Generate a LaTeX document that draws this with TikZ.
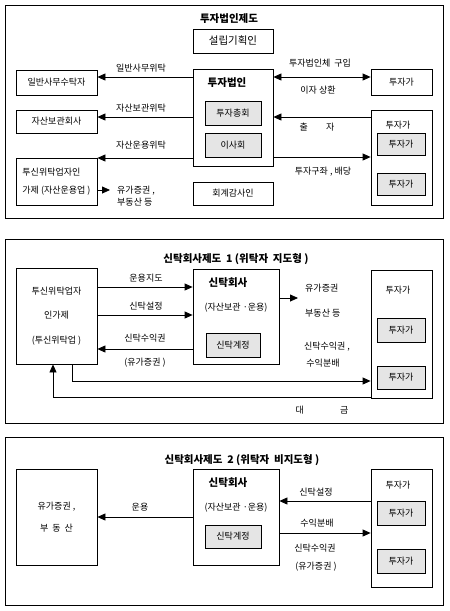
\documentclass[tikz,border=0pt]{standalone}
\usepackage{fontspec}
\setmainfont{Noto Sans CJK KR}
\usetikzlibrary{arrows.meta}

\begin{document}
\begin{tikzpicture}[x=1pt,y=-1pt,
    box/.style={draw,line width=0.8pt,fill=white,inner sep=0pt,font=\fontsize{9}{11}\selectfont},
    greybox/.style={box,fill=gray!20},
    panel/.style={draw,line width=0.8pt},
    arr/.style={-{Triangle[length=8pt,width=7pt]},line width=0.8pt},
    dblarr/.style={{Triangle[length=8pt,width=7pt]}-{Triangle[length=8pt,width=7pt]},line width=0.8pt},
    lbl/.style={inner sep=0pt,font=\fontsize{9}{11}\selectfont},
    ttl/.style={inner sep=0pt,font=\fontsize{10.5}{12}\selectfont\bfseries}]
    \useasboundingbox (0,0) rectangle (450,611);

    % Panel 1: investment company
    \draw[panel] (5,5) rectangle (443,218);
    \node[ttl] (title1) at (229,19) {투자법인제도};
    \node[box,minimum width=80pt,minimum height=24pt,font=\fontsize{10.5}{12}\selectfont] (plan) at (233,41) {설립기획인};
    \node[box,minimum width=80pt,minimum height=97pt] (corp) at (233,117.5) {};
    \node[ttl] (corpname) at (227,83) {투자법인};
    \node[greybox,minimum width=56pt,minimum height=24pt] (meeting) at (233,113) {투자총회};
    \node[greybox,minimum width=56pt,minimum height=24pt] (board) at (233,145) {이사회};
    \node[box,minimum width=80pt,minimum height=23pt] (audit) at (233,193.5) {회계감사인};
    \node[box,minimum width=81pt,minimum height=25pt] (clerk) at (56.5,82.5) {일반사무수탁자};
    \node[box,minimum width=81pt,minimum height=23pt] (custody) at (56.5,121.5) {자산보관회사};
    \node[box,minimum width=81pt,minimum height=47pt,align=left,font=\fontsize{9}{18}\selectfont] (manager) at (56.5,181.5) {투신위탁업자인\\가제 (자산운용업 )};
    \node[box,minimum width=61pt,minimum height=26pt] (inv1) at (401.5,82) {투자가};
    \node[box,minimum width=61pt,minimum height=95pt] (group1) at (401.5,157.5) {};
    \node[lbl] (group1name) at (398,125) {투자가};
    \node[greybox,minimum width=48pt,minimum height=22pt] (inv1a) at (401,144) {투자가};
    \node[greybox,minimum width=48pt,minimum height=22pt] (inv1b) at (401,184) {투자가};
    \coordinate (sec1) at (110,190);

    \draw[arr] (corp.west |- 0,77) -- (clerk.east |- 0,77);
    \node[lbl] at (141,68) {일반사무위탁};
    \draw[arr] (corp.west |- 0,117) -- (custody.east |- 0,117);
    \node[lbl] at (141,108) {자산보관위탁};
    \draw[arr] (corp.west |- 0,158) -- (manager.east |- 0,158);
    \node[lbl] at (141,145) {자산운용위탁};
    \draw[arr] (manager.east |- sec1) -- (sec1);
    \node[lbl,align=left,anchor=west,font=\fontsize{9}{12}\selectfont] at (117,196) {유가증권 ,\\부동산 등};
    \draw[dblarr] (corp.east |- 0,77) -- (inv1.west |- 0,77);
    \node[lbl] at (320,63) {투자법인체\ \ 구입};
    \node[lbl] at (318,90) {이자 상환};
    \draw[arr] (group1.west |- 0,117) -- (corp.east |- 0,117);
    \node[lbl] at (317,127) {출\hspace{2em}자};
    \draw[arr] (corp.east |- 0,157) -- (group1.west |- 0,157);
    \node[lbl] at (323,172) {투자구좌 , 배당};

    % Panel 2: trust company, type 1
    \draw[panel] (5,239) rectangle (443,423);
    \node[ttl] (title2) at (236,259) {신탁회사제도\ \ 1 (위탁자\ \ 지도형 )};
    \node[box,minimum width=81pt,minimum height=96pt,align=center,font=\fontsize{9}{24.5}\selectfont] (trustee) at (56.5,316) {투신위탁업자\\인가제\\(투신위탁업 )};
    \node[box,minimum width=86pt,minimum height=95pt] (trust2) at (236,316.5) {};
    \node[ttl] (trust2name) at (228,283) {신탁회사};
    \node[lbl] (trust2sub) at (236,308) {(자산보관 ·운용)};
    \node[greybox,minimum width=54pt,minimum height=24pt] (acct2) at (233,345) {신탁계정};
    \node[box,minimum width=61pt,minimum height=128pt] (group2) at (401.5,334) {};
    \node[lbl] (group2name) at (398,290) {투자가};
    \node[greybox,minimum width=48pt,minimum height=24pt] (inv2a) at (401,330) {투자가};
    \node[greybox,minimum width=48pt,minimum height=23pt] (inv2b) at (401,377.5) {투자가};
    \coordinate (sec2) at (298,298);

    \draw[arr] (trustee.east |- 0,287) -- (trust2.west |- 0,287);
    \node[lbl] at (146,278) {운용지도};
    \draw[arr] (trustee.east |- 0,315) -- (trust2.west |- 0,315);
    \node[lbl] at (146,306) {신탁설정};
    \draw[arr] (trust2.west |- 0,349) -- (trustee.east |- 0,349);
    \node[lbl] at (145,338) {신탁수익권};
    \node[lbl] at (145,363) {(유가증권 )};
    \draw[arr] (trust2.east |- sec2) -- (sec2);
    \node[lbl,anchor=west] at (305,288) {유가증권};
    \node[lbl,anchor=west] at (305,313) {부동산 등};
    \draw[arr] (trustee.south -| 72,0) |- (group2.west |- 0,381);
    \node[lbl] at (327,347) {신탁수익권 ,};
    \node[lbl] at (323,363) {수익분배};
    \draw[arr] (group2.west |- 0,397) -| (trustee.south -| 53,0);
    \node[lbl] at (322,410) {대\hspace{4em}금};

    % Panel 3: trust company, type 2
    \draw[panel] (5,437) rectangle (443,605);
    \node[ttl] (title3) at (242,460) {신탁회사제도\ \ 2 (위탁자\ \ 비지도형 )};
    \node[box,minimum width=81pt,minimum height=96pt,align=center,font=\fontsize{9}{22}\selectfont] (assets) at (56.5,517) {유가증권 ,\\부\ \ 동\ \ 산};
    \node[box,minimum width=86pt,minimum height=96pt] (trust3) at (236,517) {};
    \node[ttl] (trust3name) at (228,483) {신탁회사};
    \node[lbl] (trust3sub) at (236,508) {(자산보관 ·운용)};
    \node[greybox,minimum width=56pt,minimum height=23pt] (acct3) at (233,536.5) {신탁계정};
    \node[box,minimum width=61pt,minimum height=118pt] (group3) at (401.5,528) {};
    \node[lbl] (group3name) at (398,485) {투자가};
    \node[greybox,minimum width=48pt,minimum height=24pt] (inv3a) at (401,513) {투자가};
    \node[greybox,minimum width=48pt,minimum height=24pt] (inv3b) at (401,561) {투자가};

    \draw[arr] (trust3.west |- 0,517) -- (assets.east |- 0,517);
    \node[lbl] at (140,507) {운용};
    \draw[arr] (group3.west |- 0,501) -- (trust3.east |- 0,501);
    \node[lbl] at (316,492) {신탁설정};
    \draw[arr] (trust3.east |- 0,533) -- (group3.west |- 0,533);
    \node[lbl] at (317,523) {수익분배};
    \node[lbl] at (315,548) {신탁수익권};
    \node[lbl] at (316,567) {(유가증권 )};
\end{tikzpicture}
\end{document}
